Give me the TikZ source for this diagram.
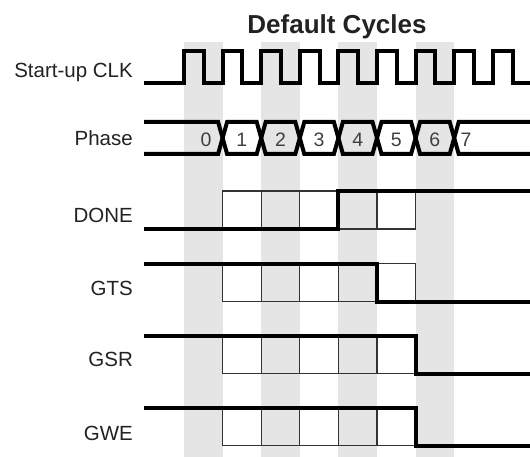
\documentclass[tikz,border=0pt]{standalone}
\usepackage{fontspec}
\setmainfont{Liberation Sans}
\usepackage{tikz}
\usetikzlibrary{positioning}
\definecolor{bandgray}{HTML}{E5E5E5}
\definecolor{textgray}{HTML}{222222}

\begin{document}
\begin{tikzpicture}[
    x=1pt, y=-1pt,
    cell/.style={draw=black!80, line width=1.2pt},
    wave/.style={draw=black, line width=4pt},
    signame/.style={
        anchor=base east, inner sep=0pt, text=textgray,
        font=\fontsize{20.5}{24}\selectfont
    },
    phasenum/.style={
        anchor=base, inner sep=0pt, text=black!75,
        font=\fontsize{19.5}{22}\selectfont
    }
]
\useasboundingbox (0,0) rectangle (530,457);

\foreach \k in {0,2,4,6}
    \fill[bandgray] ({184+38.6*\k},42) rectangle ({222.6+38.6*\k},457);

\node[anchor=base, inner sep=0pt, text=textgray,
      font=\fontsize{26}{30}\selectfont\bfseries] (title) at (337,33.3) {Default Cycles};

\node[signame] (clk) at (133,77.7) {Start-up CLK};
\node[signame] (phase) at (133,145.7) {Phase};
\node[signame] (done) at (133,222.3) {DONE};
\node[signame] (gts) at (133,295) {GTS};
\node[signame] (gsr) at (133,366) {GSR};
\node[signame] (gwe) at (133,440) {GWE};

\draw[wave] (144,83)
    \foreach \k in {0,...,8} {
        -- ({184+38.6*\k},83) -- ({184+38.6*\k},51)
        -- ({203.8+38.6*\k},51) -- ({203.8+38.6*\k},83)
    } -- (530,83);

\draw[wave] (144,122)
    \foreach \k/\ya/\yb in {1/122/154,2/154/122,3/122/154,4/154/122,5/122/154,6/154/122,7/122/154} {
        -- ({184+38.6*\k-4.5},\ya) -- ({184+38.6*\k+4.5},\yb)
    } -- (530,154);
\draw[wave] (144,154)
    \foreach \k/\ya/\yb in {1/154/122,2/122/154,3/154/122,4/122/154,5/154/122,6/122/154,7/154/122} {
        -- ({184+38.6*\k-4.5},\ya) -- ({184+38.6*\k+4.5},\yb)
    } -- (530,122);

\node[phasenum] (ph0) at (206,146.7) {0};
\foreach \k in {1,...,6}
    \node[phasenum] (ph\k) at ({203.3+38.6*\k},146.7) {\k};
\node[phasenum] (ph7) at (466,146.7) {7};

\foreach \t in {191,263.5,335.5,407.5}
    \foreach \k in {1,...,5}
        \draw[cell] ({184+38.6*\k},\t) rectangle ({222.6+38.6*\k},\t+38);

\draw[wave] (144,229) -- (338.4,229) -- (338.4,191) -- (530,191);
\draw[wave] (144,263.5) -- (377,263.5) -- (377,301.5) -- (530,301.5);
\draw[wave] (144,335.5) -- (415.6,335.5) -- (415.6,373.5) -- (530,373.5);
\draw[wave] (144,407.5) -- (415.6,407.5) -- (415.6,445.5) -- (530,445.5);
\end{tikzpicture}
\end{document}
